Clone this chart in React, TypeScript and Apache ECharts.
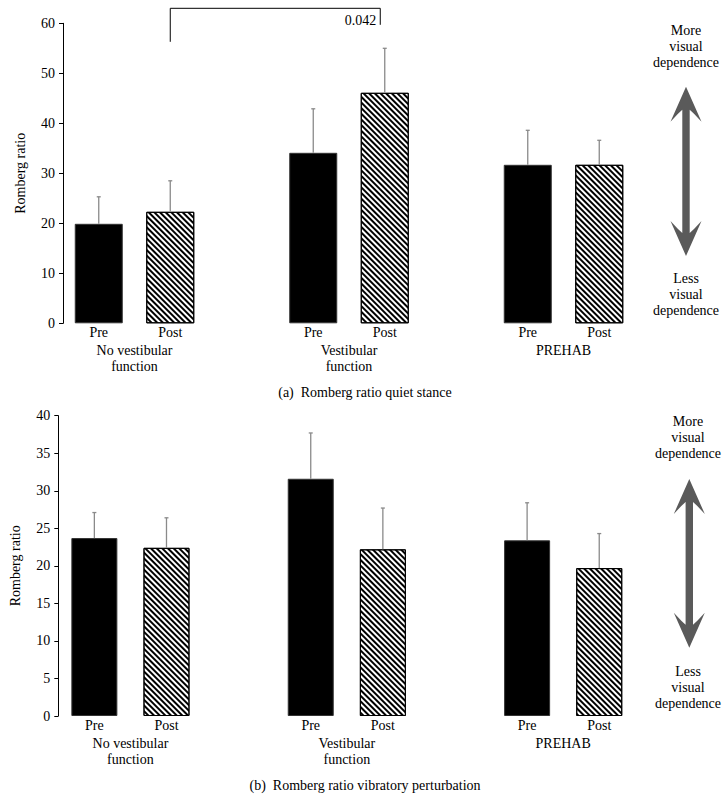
import React, { useEffect, useRef } from "react";
import * as echarts from "echarts";

// ---------- data ----------
const categories = ["Pre", "Post", "", "Pre", "Post", "", "Pre", "Post"];
const groupLabels = ["", "No vestibular\nfunction", "", "", "Vestibular\nfunction", "", "", "PREHAB", ""];
const isPost = [false, true, false, false, true, false, false, true];

const quietMeans: (number | null)[] = [19.9, 22.3, null, 34.1, 46.1, null, 31.7, 31.7];
const quietErrTop: (number | null)[] = [25.3, 28.5, null, 42.9, 55.0, null, 38.6, 36.6];
const vibMeans: (number | null)[] = [23.7, 22.4, null, 31.6, 22.2, null, 23.4, 19.7];
const vibErrTop: (number | null)[] = [27.1, 26.4, null, 37.7, 27.7, null, 28.4, 24.3];

const quietAxis = { min: 0, max: 60, interval: 10 };
const vibAxis = { min: 0, max: 40, interval: 5 };

// significance bracket (quiet stance): from category 1 to category 4
const bracketX = [1, 4];
const bracketY = [56.3, 63, 59.7];
const bracketLabel = "0.042";
const bracketLabelY = 60.5;

const yName = "Romberg ratio";
const captionA = "(a)  Romberg ratio quiet stance";
const captionB = "(b)  Romberg ratio vibratory perturbation";
const moreText = "More\nvisual\ndependence";
const lessText = "Less\nvisual\ndependence";

const FONT = "Liberation Serif";
const FS = 14;
const ERR = "#8a8a8a";
const ARROW = "#5a5a5a";

function barData(vals: (number | null)[]) {
  return vals.map((v, i) => {
    if (v === null) return "-";
    if (isPost[i]) {
      return {
        value: v,
        itemStyle: {
          color: "#ffffff",
          borderColor: "#000",
          borderWidth: 1,
          decal: {
            symbol: "rect",
            symbolSize: 1,
            color: "#000",
            backgroundColor: "#ffffff",
            dashArrayX: [1, 0],
            dashArrayY: [1.1, 2],
            rotation: Math.PI / 4,
          },
        },
      };
    }
    return { value: v, itemStyle: { color: "#000", borderColor: "#333", borderWidth: 1 } };
  });
}

function errData(means: (number | null)[], tops: (number | null)[]) {
  const out: number[][] = [];
  means.forEach((m, i) => {
    const t = tops[i];
    if (m !== null && t !== null) out.push([i, t, m]);
  });
  return out;
}

function errRender(_params: any, api: any) {
  const x = api.value(0);
  const hi = api.value(1);
  const lo = api.value(2);
  const p1 = api.coord([x, lo]);
  const p2 = api.coord([x, hi]);
  return {
    type: "group",
    children: [
      { type: "line", shape: { x1: p1[0], y1: p1[1], x2: p2[0], y2: p2[1] }, style: { stroke: ERR, lineWidth: 1.3 } },
      { type: "line", shape: { x1: p2[0] - 2, y1: p2[1], x2: p2[0] + 2, y2: p2[1] }, style: { stroke: ERR, lineWidth: 1.3 } },
    ],
  };
}

function arrowPoints(cx: number, top: number, bottom: number) {
  const L = bottom - top;
  const rel = [
    [0, 0], [15.5, 35], [8, 27], [3.7, 23],
    [3.7, L - 23], [8, L - 27], [15.5, L - 35], [0, L],
    [-15.5, L - 35], [-8, L - 27], [-3.7, L - 23],
    [-3.7, 23], [-8, 27], [-15.5, 35],
  ];
  return rel.map(([dx, dy]) => [cx + dx, top + dy]);
}

function yAxisCfg(gridIndex: number, ax: { min: number; max: number; interval: number }) {
  return {
    type: "value",
    gridIndex,
    min: ax.min,
    max: ax.max,
    interval: ax.interval,
    name: yName,
    nameLocation: "middle",
    nameRotate: 90,
    nameGap: 36,
    nameTextStyle: { fontFamily: FONT, fontSize: FS, color: "#000" },
    axisLine: { show: true, lineStyle: { color: "#000", width: 1 } },
    axisTick: { show: true, length: 4, lineStyle: { color: "#000" } },
    axisLabel: { fontFamily: FONT, fontSize: FS, color: "#000", margin: 8 },
    splitLine: { show: false },
  };
}

function xAxisCats(gridIndex: number) {
  return {
    type: "category",
    gridIndex,
    data: categories,
    axisLine: { show: false },
    axisTick: { show: false },
    axisLabel: { fontFamily: FONT, fontSize: FS, color: "#000", margin: 2.5, interval: 0 },
  };
}

function xAxisGroups(gridIndex: number) {
  return {
    type: "category",
    gridIndex,
    data: groupLabels,
    boundaryGap: false,
    position: "bottom",
    axisLine: { show: false },
    axisTick: { show: false },
    axisLabel: { fontFamily: FONT, fontSize: FS, color: "#000", margin: 19.5, lineHeight: 16, interval: 0 },
  };
}

export default function App() {
  const ref = useRef<HTMLDivElement>(null);
  useEffect(() => {
    if (!ref.current) return;
    const chart = echarts.init(ref.current, null, { renderer: "svg" });
    const textStyle = (x: number, y: number, text: string, align = "center") => ({
      type: "text",
      x,
      y,
      style: {
        text,
        fontFamily: FONT,
        fontSize: FS,
        fill: "#000",
        textAlign: align,
        textVerticalAlign: "middle",
        lineHeight: 16,
      },
    });
    chart.setOption({
      animation: false,
      backgroundColor: "#fff",
      grid: [
        { left: 63, top: 23.3, width: 572, height: 300 },
        { left: 58.3, top: 415.7, width: 577, height: 300.3 },
      ],
      xAxis: [xAxisCats(0), xAxisGroups(0), xAxisCats(1), xAxisGroups(1)],
      yAxis: [yAxisCfg(0, quietAxis), yAxisCfg(1, vibAxis)],
      series: [
        { type: "bar", xAxisIndex: 0, yAxisIndex: 0, data: barData(quietMeans), barWidth: 48 },
        { type: "custom", xAxisIndex: 0, yAxisIndex: 0, data: errData(quietMeans, quietErrTop), renderItem: errRender, z: 5 },
        { type: "bar", xAxisIndex: 2, yAxisIndex: 1, data: barData(vibMeans), barWidth: 46 },
        { type: "custom", xAxisIndex: 2, yAxisIndex: 1, data: errData(vibMeans, vibErrTop), renderItem: errRender, z: 5 },
        {
          type: "custom",
          xAxisIndex: 0,
          yAxisIndex: 0,
          clip: false,
          data: [[bracketX[0], bracketX[1]]],
          renderItem: (_p: any, api: any) => {
            const a = api.value(0);
            const b = api.value(1);
            const p1 = api.coord([a, bracketY[0]]);
            const p2 = api.coord([a, bracketY[1]]);
            const p3 = api.coord([b, bracketY[1]]);
            const p4 = api.coord([b, bracketY[2]]);
            const lbl = api.coord([b, bracketLabelY]);
            const rx = p3[0] - 4.5;
            return {
              type: "group",
              children: [
                {
                  type: "polyline",
                  shape: { points: [p1, p2, [rx, p3[1]], [rx, p4[1]]] },
                  style: { stroke: "#000", lineWidth: 1, fill: "none" },
                },
                {
                  type: "text",
                  x: rx - 4,
                  y: lbl[1],
                  style: { text: bracketLabel, fontFamily: FONT, fontSize: FS, fill: "#000", textAlign: "right", textVerticalAlign: "middle" },
                },
              ],
            };
          },
        },
      ],
      graphic: [
        textStyle(365, 392, captionA),
        textStyle(365, 785, captionB),
        textStyle(686, 46, moreText),
        textStyle(686, 294.5, lessText),
        textStyle(688, 437.5, moreText),
        textStyle(688, 687, lessText),
        { type: "polygon", shape: { points: arrowPoints(686, 86.7, 256) }, style: { fill: ARROW } },
        { type: "polygon", shape: { points: arrowPoints(689.3, 479, 647.7) }, style: { fill: ARROW } },
      ],
    });
    return () => chart.dispose();
  }, []);
  return <div ref={ref} style={{ position: "absolute", left: 0, top: 0, width: 728, height: 812 }} />;
}
